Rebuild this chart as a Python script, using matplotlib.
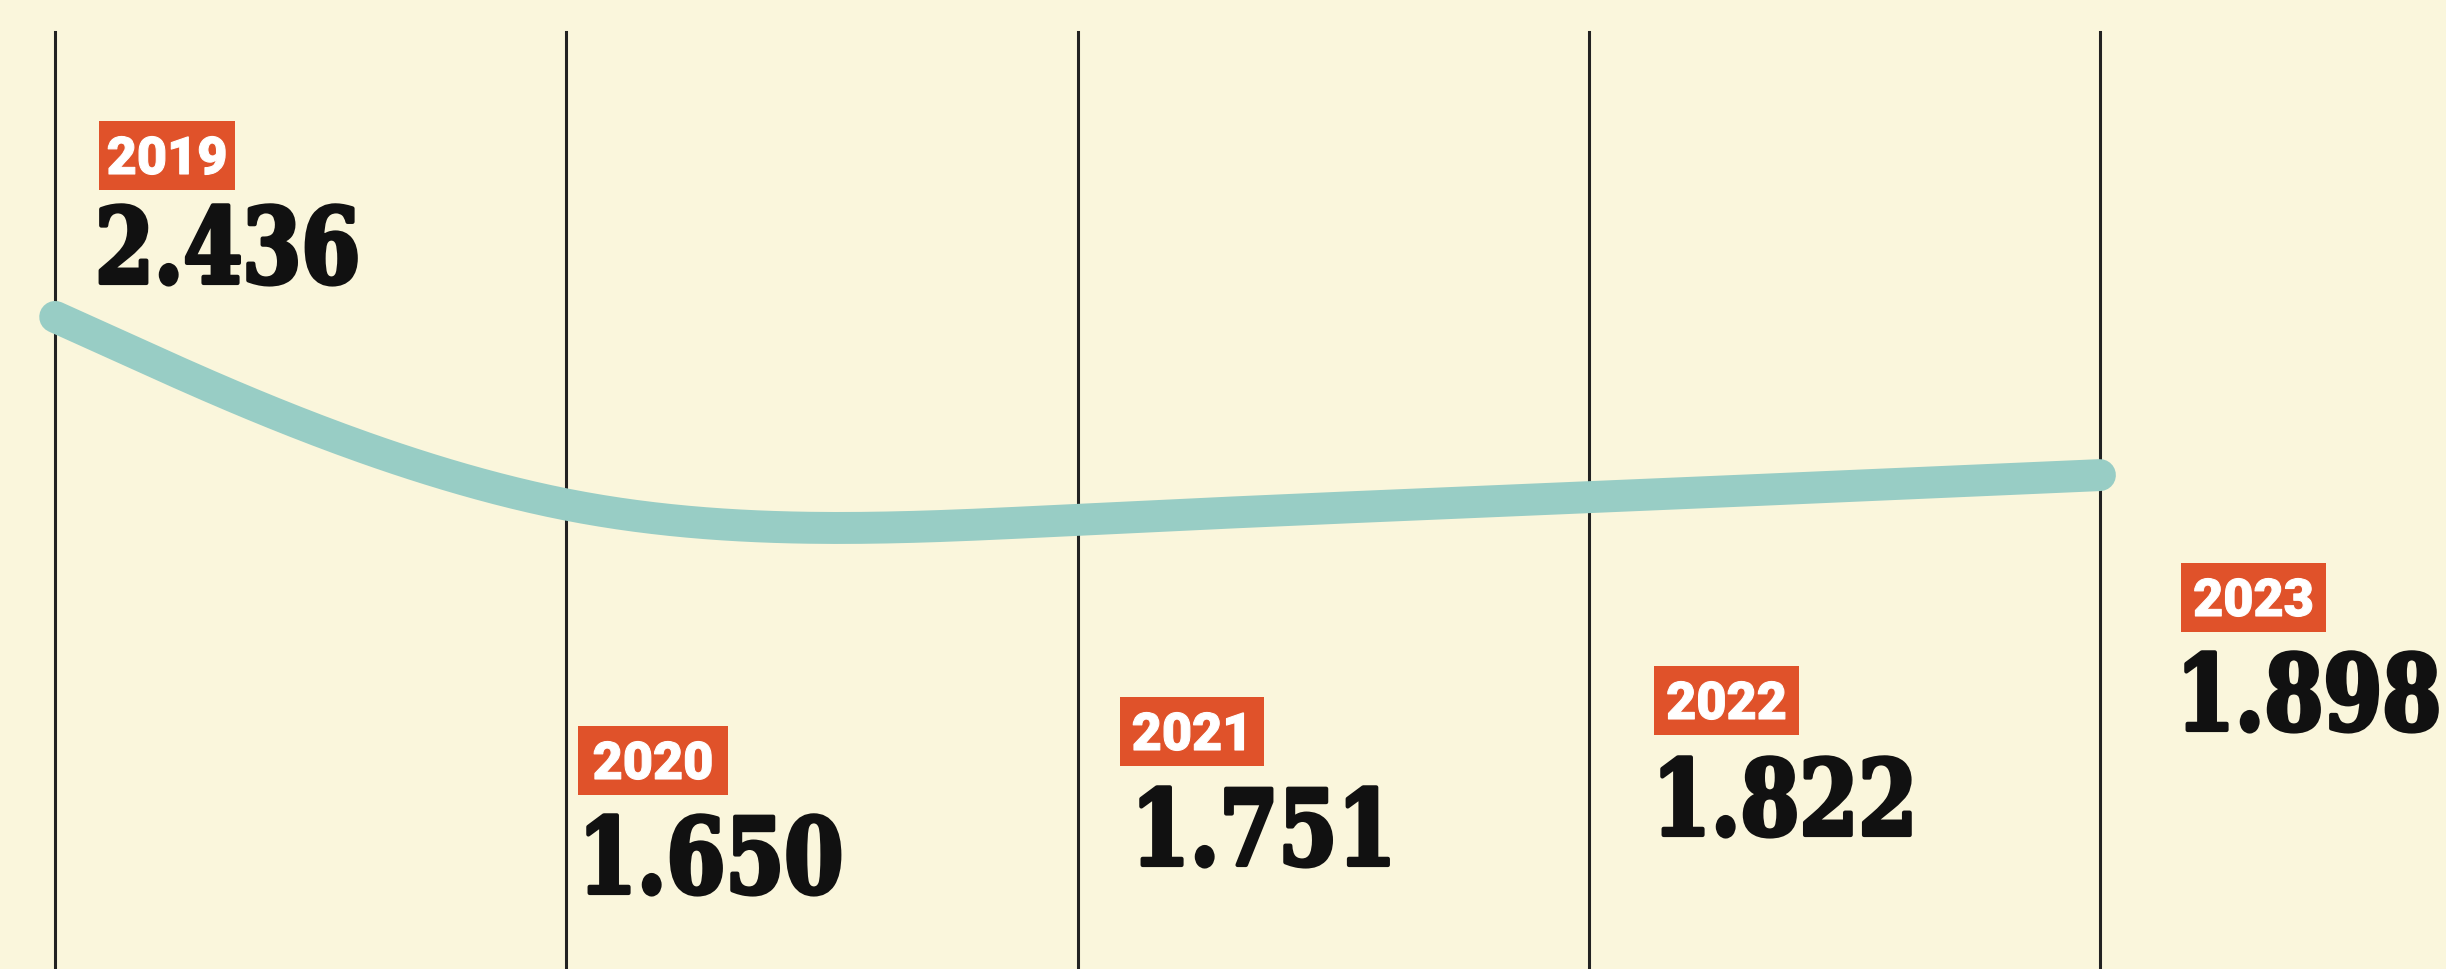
import matplotlib
matplotlib.use('Agg')
import matplotlib.pyplot as plt
from matplotlib.patches import Rectangle
from matplotlib.patheffects import AbstractPathEffect
from matplotlib.transforms import Affine2D
import numpy as np

years = [2019, 2020, 2021, 2022, 2023]
values = [2.436, 1.650, 1.751, 1.822, 1.898]
value_labels = ['2.436', '1.650', '1.751', '1.822', '1.898']

# label layout in pixels (from top-left): year box left, top, width / number left, baseline
box_pos = [(99, 121, 136), (578, 726, 150), (1120, 697, 144), (1654, 666, 145), (2181, 563, 145)]
num_pos = [(95, 283), (578, 893), (1131, 865), (1652, 835), (2176, 730)]

BG = '#faf6dc'
ORANGE = '#e0522a'
TEAL = '#98cdc5'
W, H = 2446, 969


class Stretch(AbstractPathEffect):
    # stretches the text vertically around its baseline (display px) and thickens it a bit
    def __init__(self, y0=0, sy=1.0, stroke=0.0):
        super().__init__()
        self.y0 = y0
        self.sy = sy
        self.stroke = stroke

    def draw_path(self, renderer, gc, tpath, affine, rgbFace=None):
        tr = affine + Affine2D().translate(0, -self.y0).scale(1, self.sy).translate(0, self.y0)
        gc0 = renderer.new_gc()
        gc0.copy_properties(gc)
        if self.stroke and rgbFace is not None:
            gc0.set_linewidth(self.stroke)
            gc0.set_foreground(rgbFace)
            gc0.set_joinstyle('round')
        renderer.draw_path(gc0, tpath, tr, rgbFace)
        gc0.restore()


def basis_curve(x, y, n=60):
    # uniform cubic b-spline with clamped ends (like d3.curveBasis)
    q = np.column_stack([x, y]).astype(float)
    q = np.vstack([q[:1], q[:1], q, q[-1:], q[-1:]])
    t = np.linspace(0, 1, n)[:, None]
    b = np.hstack([(1 - t)**3, 3*t**3 - 6*t**2 + 4, -3*t**3 + 3*t**2 + 3*t + 1, t**3]) / 6
    out = np.vstack([b @ q[i:i + 4] for i in range(len(q) - 3)])
    return out[:, 0], out[:, 1]


fig = plt.figure(figsize=(W / 100, H / 100), dpi=100, facecolor=BG)
ax = fig.add_axes([0, 0, 1, 1])
ax.set_xlim(2018.892, 2023.677)
ax.set_ylim(0.218, 3.514)
ax.axis('off')

for yr in years:
    ax.axvline(yr, ymin=0, ymax=1 - 32 / H, color='#222222', lw=2.2, zorder=1)

cx, cy = basis_curve(years, values)
ax.plot(cx, cy, color=TEAL, lw=23, solid_capstyle='round', zorder=3)

# labels on a pixel overlay
lab = fig.add_axes([0, 0, 1, 1])
lab.set_xlim(0, W)
lab.set_ylim(H, 0)
lab.axis('off')

for yr, txt, (bx, by, bw), (nx, ny) in zip(years, value_labels, box_pos, num_pos):
    lab.add_patch(Rectangle((bx, by), bw, 69, facecolor=ORANGE, edgecolor='none'))
    lab.text(bx + bw / 2, by + 53, str(yr), ha='center', va='baseline', color='white',
             fontsize=37.5, family='Roboto', weight='black',
             path_effects=[Stretch(0, 1.0, 0.8)])
    # narrow, heavy slab look: smaller DejaVu Serif stretched up to full height
    lab.text(nx, ny, txt, ha='left', va='baseline', color='#111111',
             fontsize=61, family='DejaVu Serif', weight='bold',
             path_effects=[Stretch(H - ny, 1.235, 3.0)])

fig.savefig('out.png', dpi=100, facecolor=BG)
